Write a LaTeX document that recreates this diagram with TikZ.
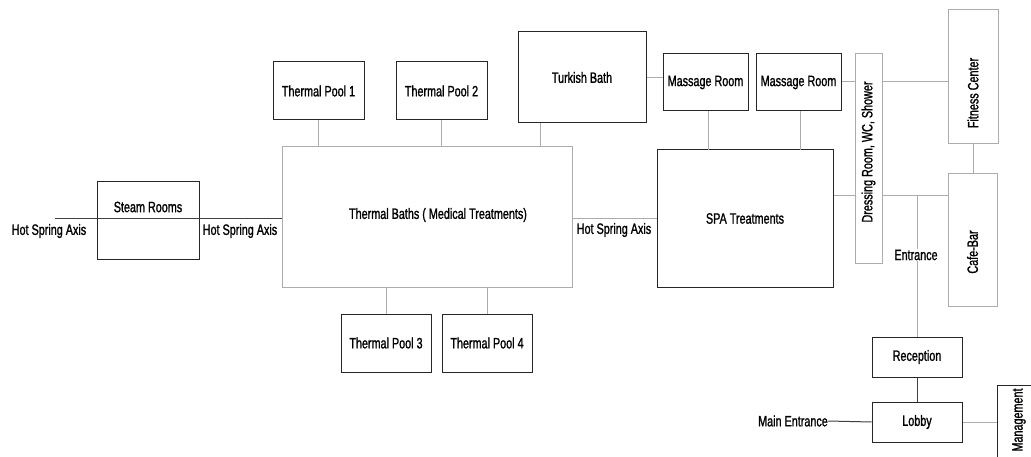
\documentclass[tikz,border=0pt]{standalone}
\usepackage{fontspec}
\setmainfont{Liberation Sans}[FakeStretch=0.72,FakeBold=1.2]
\begin{document}
\begin{tikzpicture}[x=1pt,y=-1pt,
  every node/.style={font=\fontsize{15}{17}\selectfont, inner sep=0pt},
  bx/.style={draw=black!85, line width=1pt, rectangle, fill=white},
  gbx/.style={draw=gray!65, line width=1pt, rectangle, fill=white},
  conn/.style={draw=gray!65, line width=1pt},
  dconn/.style={draw=black!75, line width=1pt},
  rot/.style={rotate=90}]
\useasboundingbox (0,0) rectangle (1031,457);
\clip (0,0) rectangle (1031,457);
\fill[white] (0,0) rectangle (1031,457);

% boxes
\node[bx, minimum width=102pt, minimum height=78pt] (steam) at (148,221) {};
\node (steamt) at (148,207) {Steam Rooms};
\node[gbx, minimum width=290pt, minimum height=140pt] (tb) at (427,217) {};
\node (tbt) at (438,215) {Thermal Baths ( Medical Treatments)};
\node[bx, minimum width=91pt, minimum height=58pt] (p1) at (318.5,91) {Thermal Pool 1};
\node[bx, minimum width=91pt, minimum height=58pt] (p2) at (441.5,91) {Thermal Pool 2};
\node[bx, minimum width=128pt, minimum height=91pt] (tk) at (582,77.5) {Turkish Bath};
\node[bx, minimum width=90pt, minimum height=58pt] (p3) at (386,343) {Thermal Pool 3};
\node[bx, minimum width=90pt, minimum height=58pt] (p4) at (487,343) {Thermal Pool 4};
\node[bx, minimum width=85pt, minimum height=57pt] (m1) at (705.5,82.5) {Massage Room};
\node[bx, minimum width=85pt, minimum height=57pt] (m2) at (798.5,82.5) {Massage Room};
\node[bx, minimum width=176pt, minimum height=137pt] (spa) at (745,218.5) {SPA Treatments};
\node[gbx, minimum width=27pt, minimum height=210pt] (dr) at (868.5,159) {};
\node[rot] (drt) at (868.5,152) {Dressing Room, WC, Shower};
\node[gbx, minimum width=50pt, minimum height=134pt] (fc) at (973,77) {};
\node[rot] (fct) at (973,93) {Fitness Center};
\node[gbx, minimum width=49pt, minimum height=132pt] (cb) at (972.5,240) {};
\node[rot] (cbt) at (972.5,252) {Cafe-Bar};
\node[bx, minimum width=90pt, minimum height=40pt] (rec) at (917,357) {Reception};
\node[bx, minimum width=90pt, minimum height=40pt] (lob) at (917,422) {Lobby};
\node[bx, minimum width=50pt, minimum height=80pt] (mg) at (1022,425) {};
\node[rot] (mgt) at (1019,420) {Management};

% labels
\node (hs1) at (49,231) {Hot Spring Axis};
\node (hs2) at (240,231) {Hot Spring Axis};
\node (hs3) at (614,230) {Hot Spring Axis};
\node (me) at (793,421) {Main Entrance};

% coordinates
\coordinate (hsl) at (55,219);
\coordinate (ent) at (917,196);

% connectors
\draw[dconn] (hsl) -- (hsl -| tb.west);
\draw[conn] (tb.east |- 0,219) -- (spa.west |- 0,219);
\draw[conn] (p1.south) -- (p1.south |- tb.north);
\draw[conn] (p2.south) -- (p2.south |- tb.north);
\draw[conn] (tk.south -| 540,0) -- (540,147);
\draw[conn] (p3.north) -- (p3.north |- tb.south);
\draw[conn] (p4.north) -- (p4.north |- tb.south);
\draw[conn] (tk.east |- 0,78) -- (m1.west |- 0,78);
\draw[conn] (m1.south -| 708,0) -- (708,150);
\draw[conn] (m2.south -| 800,0) -- (800,150);
\draw[conn] (m2.east |- 0,82) -- (dr.west |- 0,82);
\draw[conn] (dr.east |- 0,82) -- (fc.west |- 0,82);
\draw[conn] (fc.south) -- (cb.north -| fc.south);
\draw[conn] (spa.east |- ent) -- (dr.west |- ent);
\draw[conn] (dr.east |- ent) -- (cb.west |- ent);
\draw[conn] (ent) -- (rec.north);
\draw[dconn] (rec.south) -- (lob.north);
\draw[dconn] (me.east) -- (lob.west);
\draw[conn] (lob.east) -- (lob.east -| mg.west);
\node[fill=white, inner sep=1pt] (entt) at (916,255) {Entrance};
\end{tikzpicture}
\end{document}
